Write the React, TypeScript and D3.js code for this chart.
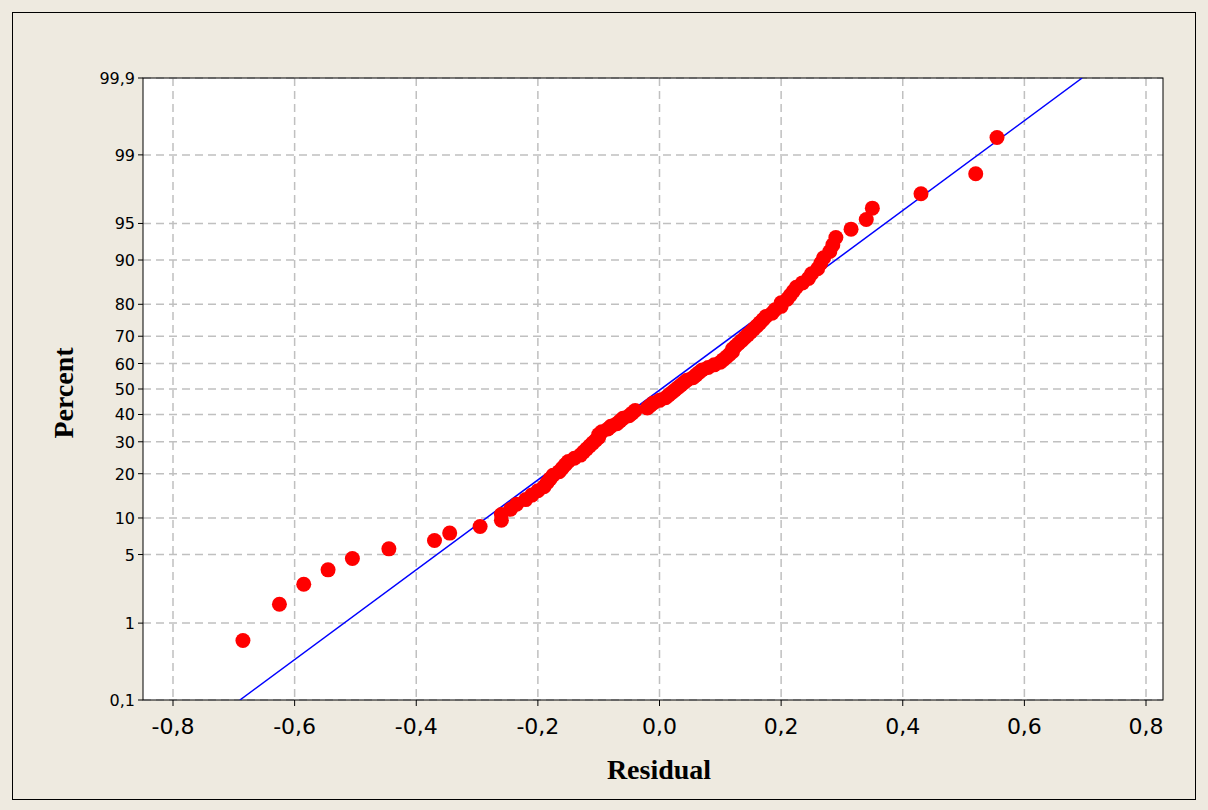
import React from "react";
import * as d3 from "d3";

// sorted residuals (n = 100)
const residuals = [
  -0.685, -0.625, -0.585, -0.545, -0.505, -0.445, -0.37, -0.345, -0.295,
  -0.26, -0.26, -0.245, -0.235, -0.22, -0.21, -0.2, -0.19, -0.185, -0.18, -0.175,
  -0.165, -0.16, -0.155, -0.15, -0.14, -0.13, -0.125, -0.12, -0.115, -0.11,
  -0.105, -0.1, -0.1, -0.095, -0.085, -0.08, -0.07, -0.065, -0.06, -0.05,
  -0.045, -0.04, -0.02, -0.015, -0.01, 0.0, 0.01, 0.015, 0.02, 0.025,
  0.03, 0.035, 0.04, 0.045, 0.055, 0.06, 0.065, 0.07, 0.08, 0.09,
  0.1, 0.105, 0.11, 0.115, 0.12, 0.12, 0.125, 0.13, 0.135, 0.14,
  0.145, 0.15, 0.155, 0.16, 0.165, 0.17, 0.175, 0.185, 0.19, 0.2,
  0.2, 0.21, 0.215, 0.22, 0.225, 0.235, 0.245, 0.25, 0.26, 0.265,
  0.27, 0.28, 0.285, 0.29, 0.315, 0.34, 0.35, 0.43, 0.52, 0.555,
];
const fitLine = [
  { r: -0.69, p: 0.1 },
  { r: 0.695, p: 99.9 },
];
const xTicks = [-0.8, -0.6, -0.4, -0.2, 0, 0.2, 0.4, 0.6, 0.8];
const yTicks = [0.1, 1, 5, 10, 20, 30, 40, 50, 60, 70, 80, 90, 95, 99, 99.9];

const W = 1208;
const H = 810;
const left = 143, right = 1163, top = 78, bottom = 700;

function probit(p: number) {
  // Acklam approximation of the inverse normal CDF
  const a = [-39.69683028665376, 220.9460984245205, -275.9285104469687, 138.357751867269, -30.66479806614716, 2.506628277459239];
  const b = [-54.47609879822406, 161.5858368580409, -155.6989798598866, 66.80131188771972, -13.28068155288572];
  const c = [-0.007784894002430293, -0.3223964580411365, -2.400758277161838, -2.549732539343734, 4.374664141464968, 2.938163982698783];
  const d = [0.007784695709041462, 0.3224671290700398, 2.445134137142996, 3.754408661907416];
  const pl = 0.02425;
  if (p < pl) {
    const q = Math.sqrt(-2 * Math.log(p));
    return (((((c[0] * q + c[1]) * q + c[2]) * q + c[3]) * q + c[4]) * q + c[5]) / ((((d[0] * q + d[1]) * q + d[2]) * q + d[3]) * q + 1);
  }
  if (p > 1 - pl) {
    const q = Math.sqrt(-2 * Math.log(1 - p));
    return -(((((c[0] * q + c[1]) * q + c[2]) * q + c[3]) * q + c[4]) * q + c[5]) / ((((d[0] * q + d[1]) * q + d[2]) * q + d[3]) * q + 1);
  }
  const q = p - 0.5, r = q * q;
  return ((((((a[0] * r + a[1]) * r + a[2]) * r + a[3]) * r + a[4]) * r + a[5]) * q) / (((((b[0] * r + b[1]) * r + b[2]) * r + b[3]) * r + b[4]) * r + 1);
}
const zOf = (p: number) => probit(p / 100);

export default function App() {
  const x = d3.scaleLinear().domain([-0.8, 0.8]).range([173, 1146]);
  const zScale = d3.scaleLinear().domain([zOf(0.1), zOf(99.9)]).range([bottom, top]);
  const y = (p: number) => zScale(zOf(p));
  const n = residuals.length;
  const pts = residuals.map((r, i) => ({ r, p: ((i + 1 - 0.375) / (n + 0.25)) * 100 }));
  const line = d3.line<{ r: number; p: number }>().x((d) => x(d.r)).y((d) => y(d.p));
  const fmt = (v: number) => (v === 0 ? "0,0" : v.toFixed(1).replace(".", ","));

  return (
    <svg width={W} height={H} style={{ position: "absolute", left: 0, top: 0 }}>
      <rect x={0} y={0} width={W} height={H} fill="#EEEAE0" />
      <rect x={12.5} y={12.5} width={1183} height={787} fill="none" stroke="#000" />
      <rect x={left} y={top} width={right - left} height={bottom - top} fill="#fff" />
      <g stroke="#c0c0c0" strokeWidth={1.5} strokeDasharray="8,5">
        {xTicks.map((t) => (
          <line key={t} x1={x(t)} x2={x(t)} y1={top} y2={bottom} />
        ))}
        {yTicks.map((t) => (
          <line key={t} x1={left} x2={right} y1={y(t)} y2={y(t)} />
        ))}
      </g>
      <rect x={left} y={top} width={right - left} height={bottom - top} fill="none" stroke="#000" />
      <defs>
        <clipPath id="clip">
          <rect x={left} y={top} width={right - left} height={bottom - top} />
        </clipPath>
      </defs>
      <g clipPath="url(#clip)">
        <path d={line(fitLine) ?? ""} fill="none" stroke="#0000ff" strokeWidth={1.5} />
      </g>
      {pts.map((d, i) => (
        <circle key={i} cx={x(d.r)} cy={y(d.p)} r={7.5} fill="#ff0000" />
      ))}
      {xTicks.map((t) => (
        <g key={t}>
          <line x1={x(t)} x2={x(t)} y1={bottom} y2={bottom + 6} stroke="#000" />
          <text x={x(t)} y={bottom + 34} textAnchor="middle" fontFamily="DejaVu Sans" fontSize={22}>
            {fmt(t)}
          </text>
        </g>
      ))}
      {yTicks.map((t) => (
        <g key={t}>
          <line x1={left - 5} x2={left} y1={y(t)} y2={y(t)} stroke="#000" />
          <text x={left - 8} y={y(t) + 6} textAnchor="end" fontFamily="DejaVu Sans" fontSize={16}>
            {String(t).replace(".", ",")}
          </text>
        </g>
      ))}
      <text x={659} y={779} textAnchor="middle" fontFamily="Liberation Serif" fontWeight="bold" fontSize={28}>
        Residual
      </text>
      <text transform="translate(73,393) rotate(-90)" textAnchor="middle" fontFamily="Liberation Serif" fontWeight="bold" fontSize={28}>
        Percent
      </text>
    </svg>
  );
}
